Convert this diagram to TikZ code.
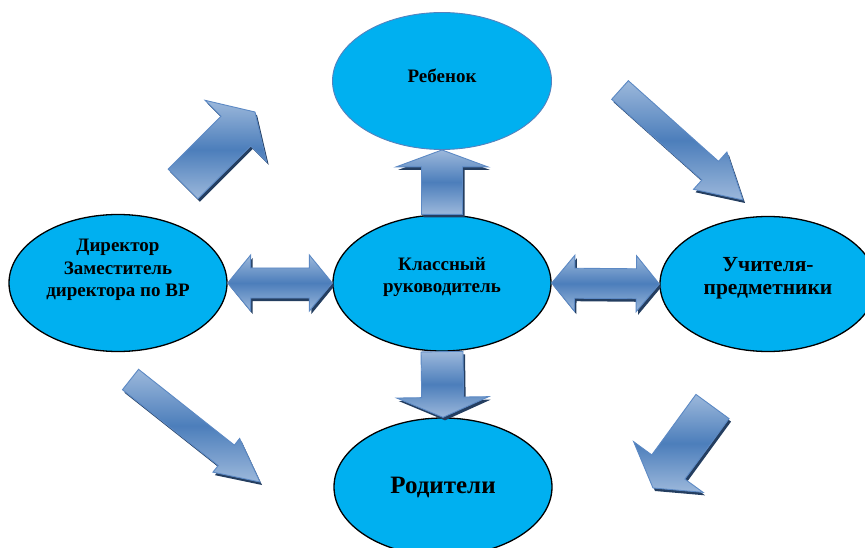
\documentclass[tikz,border=0pt]{standalone}
\usepackage{fontspec}
\setmainfont{Liberation Serif}
\usetikzlibrary{shapes.geometric,calc}

\definecolor{bubblefill}{RGB}{0,176,240}
\definecolor{childline}{RGB}{84,130,190}
\definecolor{arrowlight}{RGB}{156,184,219}
\definecolor{arrowmid}{RGB}{76,126,187}
\definecolor{arrowline}{RGB}{92,137,196}
\definecolor{arrowshade}{RGB}{36,62,96}

\tikzset{
  bubble/.style={ellipse, draw=black, line width=1.3pt, fill=bubblefill,
    minimum width=218pt, minimum height=136pt, inner sep=0pt},
  nametext/.style={font=\bfseries\fontsize{19}{22.5}\selectfont, align=center},
  bigtext/.style={font=\bfseries\fontsize{21.5}{23}\selectfont, align=center},
  arrowbody/.style={draw=arrowline, line width=0.9pt, line join=miter,
    top color=arrowlight, bottom color=arrowlight, middle color=arrowmid},
  arrowshadow/.style={fill=arrowshade, transform canvas={shift={(2pt,-3pt)}}},
}

% outline of a one-headed arrow: tail, tip, shaft half width, head half width
\newcommand{\oneway}[4]{($(#1)!#3!90:(#2)$) -- ($(hb)!#3!90:(#2)$)
  -- ($(hb)!#4!90:(#2)$) -- (#2) -- ($(hb)!#4!-90:(#2)$)
  -- ($(hb)!#3!-90:(#2)$) -- ($(#1)!#3!-90:(#2)$) -- cycle}
% outline of a two-headed arrow
\newcommand{\twoway}[4]{(#1) -- ($(ha)!#4!90:(#2)$) -- ($(ha)!#3!90:(#2)$)
  -- ($(hb)!#3!90:(#2)$) -- ($(hb)!#4!90:(#2)$) -- (#2)
  -- ($(hb)!#4!-90:(#2)$) -- ($(hb)!#3!-90:(#2)$)
  -- ($(ha)!#3!-90:(#2)$) -- ($(ha)!#4!-90:(#2)$) -- cycle}
% #5 = head length
\newcommand{\blockarrow}[5]{%
  \coordinate (hb) at ($(#2)!#5!(#1)$);
  \fill[arrowshadow] \oneway{#1}{#2}{#3}{#4};
  \path[arrowbody] \oneway{#1}{#2}{#3}{#4};
}
\newcommand{\blockboth}[5]{%
  \coordinate (ha) at ($(#1)!#5!(#2)$);
  \coordinate (hb) at ($(#2)!#5!(#1)$);
  \fill[arrowshadow] \twoway{#1}{#2}{#3}{#4};
  \path[arrowbody] \twoway{#1}{#2}{#3}{#4};
}

\begin{document}
\begin{tikzpicture}[x=1pt,y=-1pt]
  \useasboundingbox (0,0) rectangle (865,548);

  % ellipses
  \node[bubble, draw=childline, line width=0.9pt, minimum width=219pt, minimum height=137pt]
    (child) at (442,81) {};
  \node[bubble] (klass) at (442,283) {};
  \node[bubble, minimum height=137pt] (head) at (118,283) {};
  \node[bubble, minimum width=216pt, minimum height=135pt] (teach) at (768,284) {};
  \node[bubble, minimum height=138pt] (parents) at (443,487) {};

  % texts
  \node[nametext] (childText) at ($(child)+(0,-5)$) {Ребенок};
  \node[nametext] (klassText) at ($(klass)+(0,-6)$) {Классный\\руководитель};
  \node[nametext] (headText) at ($(head)+(0,-13)$) {Директор\\Заместитель\\директора по ВР};
  \node[bigtext] (teachText) at ($(teach)+(0,-5.5)$) {Учителя-\\предметники};
  \node[bigtext, font=\bfseries\fontsize{25}{26}\selectfont] (parentsText) at (parents) {Родители};

  % free ends of the slanted arrows
  \coordinate (neTail) at (183,184);
  \coordinate (neTip) at (255,112);
  \coordinate (seTail) at (620,90);
  \coordinate (seTip) at (743,200);
  \coordinate (swTail) at (712.5,406.5);
  \coordinate (swTip) at (653,488);
  \coordinate (lowTail) at (130.5,379.5);
  \coordinate (lowTip) at (260,482);

  % arrows
  \blockarrow{klass.north}{child.south}{20.5pt}{46pt}{17pt}
  \blockarrow{klass.south}{parents.north}{21pt}{46pt}{20pt}
  \blockboth{head.east}{klass.west}{15pt}{28pt}{23pt}
  \blockboth{klass.east}{teach.west}{15pt}{28pt}{23pt}
  \blockarrow{neTail}{neTip}{21pt}{43.5pt}{27pt}
  \blockarrow{seTail}{seTip}{12.5pt}{25pt}{44pt}
  \blockarrow{swTail}{swTip}{20.5pt}{43pt}{26pt}
  \blockarrow{lowTail}{lowTip}{13pt}{21.5pt}{43pt}
\end{tikzpicture}
\end{document}
